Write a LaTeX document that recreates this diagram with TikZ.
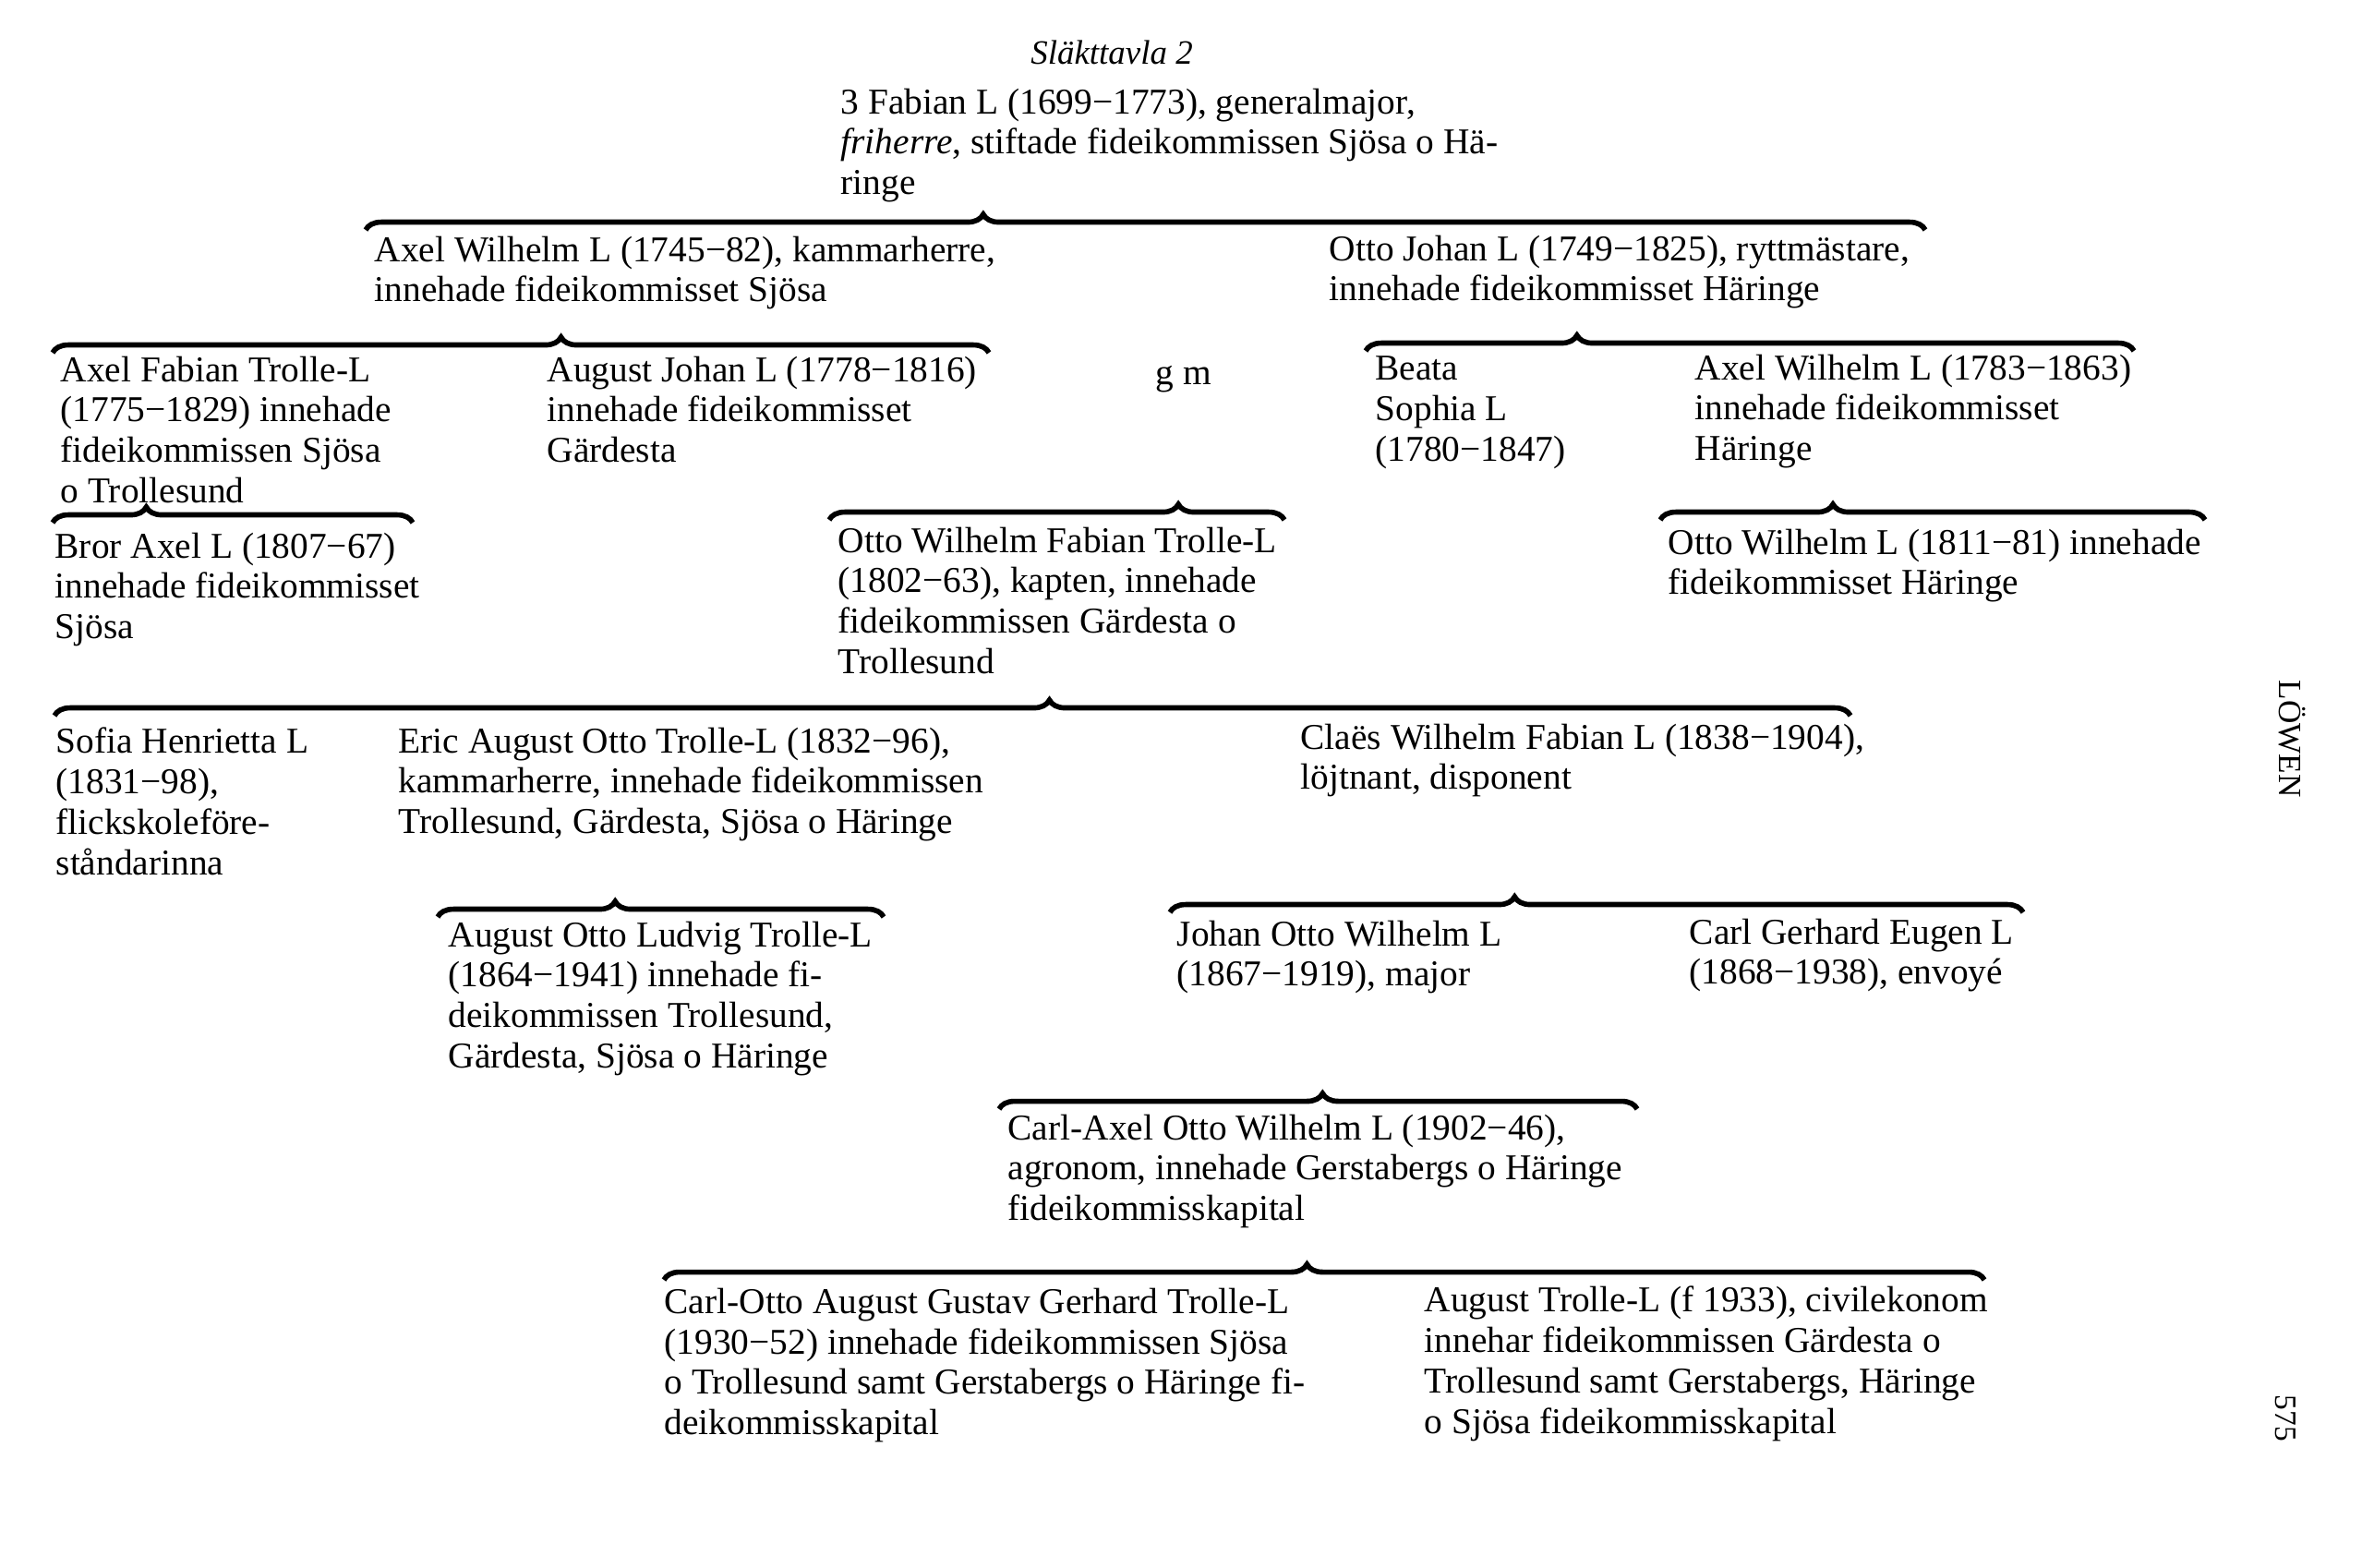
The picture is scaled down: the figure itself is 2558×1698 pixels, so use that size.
\documentclass[tikz,border=0pt]{standalone}
\usepackage{fontspec}
\setmainfont{Liberation Serif}
\usetikzlibrary{decorations.pathreplacing}

\tikzset{
  person/.style={anchor=north west, inner sep=0pt, align=left,
    font=\fontsize{11.2}{12.5}\selectfont, execute at begin node=\strut},
  famb/.style={decorate, decoration={brace, amplitude=4.8pt, aspect=#1}, line width=1.6pt},
}

\begin{document}
\begin{tikzpicture}[x=0.01cm, y=-0.01cm]
            \useasboundingbox (0,0) rectangle (2558,1698);
            \node[anchor=base, font=\fontsize{10.5}{12.5}\selectfont\itshape] (title) at (1204,70) {Släkttavla 2};
            \node[person] (fabian) at (910,95) {3 Fabian L (1699−1773), generalmajor,\\\textit{friherre}, stiftade fideikommissen Sjösa o Hä-\\ringe};
            % second generation
            \node[person] (axelw) at (405,255) {Axel Wilhelm L (1745−82), kammarherre,\\innehade fideikommisset Sjösa};
            \node[person] (ottoj) at (1439,254) {Otto Johan L (1749−1825), ryttmästare,\\innehade fideikommisset Häringe};
            % third generation
            \node[person] (axelf) at (65,385) {Axel Fabian Trolle-L\\(1775−1829) innehade\\fideikommissen Sjösa\\o Trollesund};
            \node[person] (augj) at (592,385) {August Johan L (1778−1816)\\innehade fideikommisset\\Gärdesta};
            \node[person] (gm) at (1251,385) {g m};
            \node[person] (beata) at (1489,385) {Beata\\Sophia L\\(1780−1847)};
            \node[person] (axelw2) at (1835,383) {Axel Wilhelm L (1783−1863)\\innehade fideikommisset\\Häringe};
            % fourth generation
            \node[person] (bror) at (59,576) {Bror Axel L (1807−67)\\innehade fideikommisset\\Sjösa};
            \node[person] (ottowf) at (907,570) {Otto Wilhelm Fabian Trolle-L\\(1802−63), kapten, innehade\\fideikommissen Gärdesta o\\Trollesund};
            \node[person] (ottow) at (1806,572) {Otto Wilhelm L (1811−81) innehade\\fideikommisset Häringe};
            % fifth generation
            \node[person] (sofia) at (60,787) {Sofia Henrietta L\\(1831−98),\\flickskoleföre-\\ståndarinna};
            \node[person] (eric) at (431,787) {Eric August Otto Trolle-L (1832−96),\\kammarherre, innehade fideikommissen\\Trollesund, Gärdesta, Sjösa o Häringe};
            \node[person] (claes) at (1408,783) {Claës Wilhelm Fabian L (1838−1904),\\löjtnant, disponent};
            % sixth generation
            \node[person] (augol) at (485,997) {August Otto Ludvig Trolle-L\\(1864−1941) innehade fi-\\deikommissen Trollesund,\\Gärdesta, Sjösa o Häringe};
            \node[person] (johanow) at (1274,996) {Johan Otto Wilhelm L\\(1867−1919), major};
            \node[person] (carlge) at (1829,994) {Carl Gerhard Eugen L\\(1868−1938), envoyé};
            \node[person] (carlaxel) at (1091,1206) {Carl-Axel Otto Wilhelm L (1902−46),\\agronom, innehade Gerstabergs o Häringe\\fideikommisskapital};
            \node[person] (carlotto) at (719,1394) {Carl-Otto August Gustav Gerhard Trolle-L\\(1930−52) innehade fideikommissen Sjösa\\o Trollesund samt Gerstabergs o Häringe fi-\\deikommisskapital};
            \node[person] (augt) at (1542,1392) {August Trolle-L (f 1933), civilekonom\\innehar fideikommissen Gärdesta o\\Trollesund samt Gerstabergs, Häringe\\o Sjösa fideikommisskapital};
            % margin
            \node[rotate=-90, font=\fontsize{10}{12}\selectfont] (loewen) at (2482,800) {LÖWEN};
            \node[rotate=-90, font=\fontsize{9.5}{12}\selectfont] (pageno) at (2475,1536) {575};
            % braces
            \coordinate (A1) at (396,249);  \coordinate (A2) at (2085,249);
            \coordinate (B1) at (57,382);   \coordinate (B2) at (1071,382);
            \coordinate (C1) at (1479,380); \coordinate (C2) at (2311,380);
            \coordinate (D1) at (57,566);   \coordinate (D2) at (447,566);
            \coordinate (E1) at (898,563);  \coordinate (E2) at (1391,563);
            \coordinate (F1) at (1798,563); \coordinate (F2) at (2388,563);
            \coordinate (G1) at (59,775);   \coordinate (G2) at (2004,775);
            \coordinate (H1) at (474,993);  \coordinate (H2) at (957,993);
            \coordinate (I1) at (1267,988); \coordinate (I2) at (2191,988);
            \coordinate (J1) at (1082,1201); \coordinate (J2) at (1773,1201);
            \coordinate (K1) at (719,1386); \coordinate (K2) at (2149,1386);
            \draw[famb=0.396] (A1) -- (A2);
            \draw[famb=0.543] (B1) -- (B2);
            \draw[famb=0.275] (C1) -- (C2);
            \draw[famb=0.26] (D1) -- (D2);
            \draw[famb=0.767] (E1) -- (E2);
            \draw[famb=0.317] (F1) -- (F2);
            \draw[famb=0.554] (G1) -- (G2);
            \draw[famb=0.398] (H1) -- (H2);
            \draw[famb=0.404] (I1) -- (I2);
            \draw[famb=0.507] (J1) -- (J2);
            \draw[famb=0.487] (K1) -- (K2);
        \end{tikzpicture}
\end{document}
